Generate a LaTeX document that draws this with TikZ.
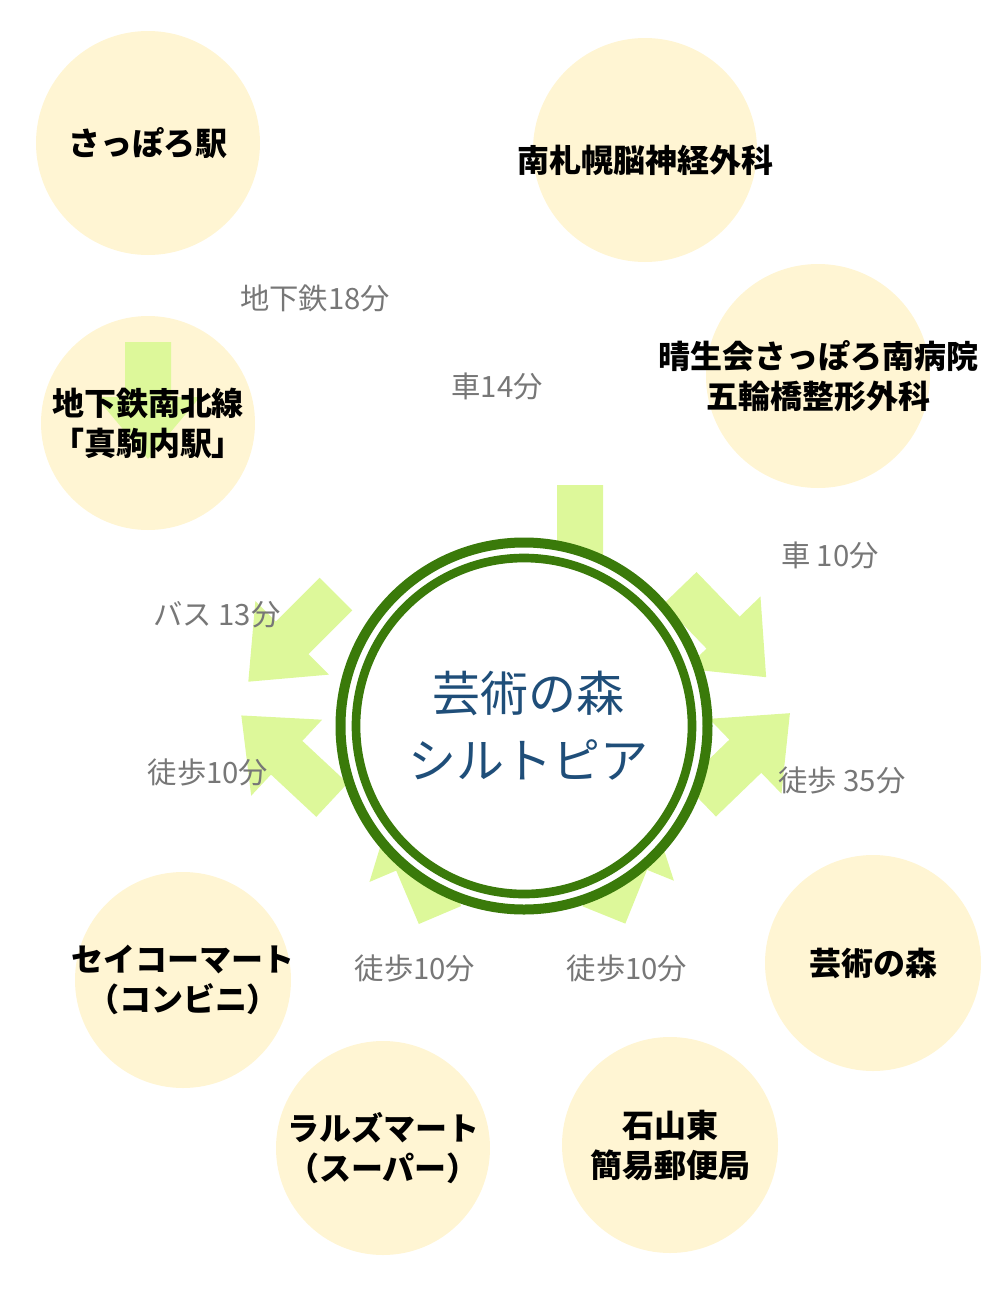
\documentclass[tikz,border=0pt]{standalone}
\usepackage{fontspec}
\newfontfamily\jp{Noto Sans CJK JP}
\begin{document}
\begin{tikzpicture}[x=0.75pt,y=-0.75pt,
  spot/.style={circle,fill=spotc,draw=none,minimum size=#1*0.75pt,inner sep=0pt},
  nm/.style={font=\jp\bfseries\fontsize{24}{30}\selectfont,align=center,text=black},
  lbl/.style={font=\jp\fontsize{22}{26}\selectfont,text=lblc},
]
\definecolor{spotc}{HTML}{FFF5D3}
\definecolor{arrc}{HTML}{DDF89A}
\definecolor{lblc}{HTML}{777777}
\definecolor{ringc}{HTML}{3A7A0A}
\definecolor{ctext}{HTML}{1F4E79}
\useasboundingbox (0,0) rectangle (1000,1304);
\newcommand{\fatarrow}[5]{% name, tail x, tail y, angle, length
  \begin{scope}[shift={(#2,#3)},rotate=-#4]
    \fill[arrc] (0,-23) -- (#5-62,-23) -- (#5-62,-52) -- (#5,0) -- (#5-62,52) -- (#5-62,23) -- (0,23) -- cycle;
    \coordinate (#1) at (#5,0);
  \end{scope}}
% destination circles
\node[spot=224] (sapporo) at (148,143) {};
\node[spot=224] (noushin) at (645,150) {};
\node[spot=214] (makomanai) at (148,423) {};
\node[spot=224] (seisei) at (818,376) {};
\node[spot=216] (seico) at (183,980) {};
\node[spot=216] (geimori) at (873,963) {};
\node[spot=214] (rals) at (383,1148) {};
\node[spot=216] (ishiyama) at (670,1145) {};
% arrows
\fatarrow{a1}{148}{342}{90}{117}
\fatarrow{a2}{580}{485}{90}{223}
\fatarrow{a3}{336}{594}{135}{124}
\fatarrow{a4}{680}{588}{46}{124}
\fatarrow{a5}{332}{800}{223}{124}
\fatarrow{a6}{700}{800}{-44}{125}
\fatarrow{a7}{440}{915}{-113}{120}
\fatarrow{a8}{604}{915}{-68}{120}
% center
\node[circle,draw=ringc,line width=7.5pt,minimum size=367*0.75pt,fill=white,inner sep=0pt] (center) at (524,726) {};
\draw[ringc,line width=6.5pt] (center.center) circle[radius=168];
\node[font=\jp\fontsize{36}{50}\selectfont,text=ctext,align=center] (ctxt) at (528,726) {芸術の森\\シルトピア};
% names
\node[nm] (t1) at (sapporo) {さっぽろ駅};
\node[nm] (t2) at (645,160) {南札幌脳神経外科};
\node[nm] (t3) at (makomanai) {地下鉄南北線\\「真駒内駅」};
\node[nm] (t4) at (seisei) {晴生会さっぽろ南病院\\五輪橋整形外科};
\node[nm] (t5) at (seico) {セイコーマート\\（コンビニ）};
\node[nm] (t6) at (geimori) {芸術の森};
\node[nm] (t7) at (rals) {ラルズマート\\（スーパー）};
\node[nm] (t8) at (ishiyama) {石山東\\簡易郵便局};
% labels
\node[lbl] (l1) at (315,298) {地下鉄18分};
\node[lbl] (l2) at (497,386) {車14分};
\node[lbl] (l3) at (830,555) {車 10分};
\node[lbl] (l4) at (217,615) {バス 13分};
\node[lbl] (l5) at (208,772) {徒歩10分};
\node[lbl] (l6) at (842,780) {徒歩 35分};
\node[lbl] (l7) at (415,968) {徒歩10分};
\node[lbl] (l8) at (627,968) {徒歩10分};
\end{tikzpicture}
\end{document}
